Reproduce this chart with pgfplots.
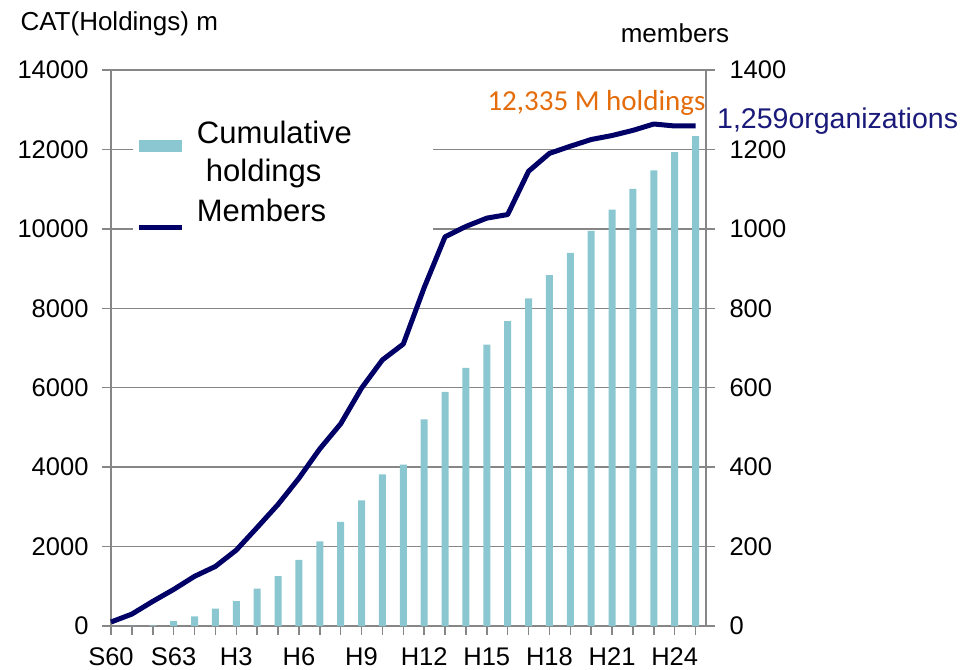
\documentclass[border=0pt]{standalone}
\usepackage{pgfplots}
\usepackage{pgfplotstable}
\pgfplotsset{compat=1.18}
\usepackage{fontspec}
\setmainfont{Liberation Sans}
\newfontfamily\calibri{Carlito}
\definecolor{barc}{RGB}{139,199,208}
\definecolor{navyl}{RGB}{0,0,102}
\definecolor{axg}{RGB}{134,134,134}
\definecolor{orangec}{RGB}{228,108,10}
\definecolor{navyt}{RGB}{26,26,122}

\pgfplotstableread{
i c m
0 0 10
1 5 30
2 15 62
3 125 92
4 240 125
5 435 150
6 628 191
7 942 248
8 1253 306
9 1665 372
10 2128 446
11 2623 509
12 3162 599
13 3818 670
14 4061 710
15 5205 852
16 5894 980
17 6499 1006
18 7087 1027
19 7677 1036
20 8247 1145
21 8837 1190
22 9392 1208
23 9947 1225
24 10484 1235
25 11006 1248
26 11475 1264
27 11930 1259
28 12335 1259
}\data

\pgfplotsset{common/.style={
  scale only axis, width=595pt, height=556pt,
  at={(111pt,43pt)}, anchor=south west,
  xmin=0, xmax=28.5,
  axis line style={axg, line width=1.5pt},
  major tick style={axg, line width=1.5pt},
  major tick length=9pt, tick align=outside,
  tick label style={font=\fontsize{25.5}{27}\selectfont, text=black},
  /pgf/number format/assume math mode=true,
  /pgf/number format/1000 sep={},
  scaled ticks=false,
}}

\begin{document}
\begin{tikzpicture}[x=1pt,y=1pt]
\useasboundingbox (0,0) rectangle (968,669);
\begin{axis}[common,
  ymin=0, ymax=14000, ytick={0,2000,...,14000}, ytick pos=left,
  xtick={0,...,28}, xtick pos=bottom,
  xticklabels={S60,,,S63,,,H3,,,H6,,,H9,,,H12,,,H15,,,H18,,,H21,,,H24,,},
  yticklabel style={xshift=-10pt},
  xticklabel style={yshift=-9pt},
  ymajorgrids, grid style={axg, line width=1.5pt},
  legend style={at={(axis description cs:0.037,0.915)}, anchor=north west,
    draw=none, fill=white, font=\fontsize{31}{38}\selectfont,
    cells={align=left}, row sep=12pt},
  legend cell align=left,
]
\addplot[ybar, bar width=7pt, bar shift=0pt, fill=barc, draw=none,
  legend image code/.code={\fill[barc] (0pt,0pt) rectangle (43pt,12pt); \path (56pt,0pt);}]
  table[x=i, y=c]{\data};
\addlegendentry{Cumulative\hspace*{76pt}\\\hspace*{9pt}holdings}
\addlegendimage{legend image code/.code={\draw[navyl, line width=5pt] (0pt,-16pt) -- (43pt,-16pt); \path (56pt,0pt);}}
\addlegendentry{Members}
\end{axis}
\begin{axis}[common,
  ymin=0, ymax=1400, ytick={0,200,...,1400},
  axis y line*=right, axis x line=none,
  yticklabel style={xshift=11pt},
  clip=false,
]
\addplot[navyl, line width=5pt, line join=round, mark=none]
  table[x=i, y=m]{\data};
\end{axis}
\node[anchor=west, font=\fontsize{26}{26}\selectfont] at (17,645) {CAT(Holdings) m};
\node[font=\fontsize{26}{26}\selectfont] at (675,636) {members};
\node[font=\calibri\fontsize{29}{29}\selectfont, text=orangec] at (596.5,566) {12,335 M holdings};
\node[anchor=west, inner sep=0pt, font=\fontsize{28.5}{28.5}\selectfont, text=navyt] at (717,548) {1,259organizations};
\end{tikzpicture}
\end{document}
